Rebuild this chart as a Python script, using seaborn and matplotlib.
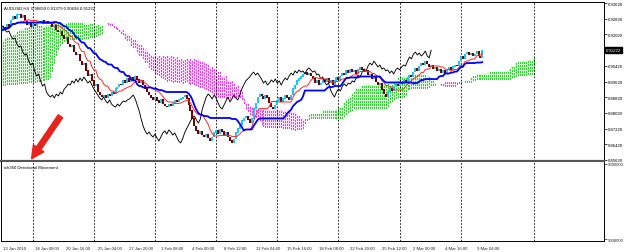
import numpy as np
import pandas as pd
import seaborn as sns
import matplotlib.pyplot as plt
from matplotlib.patches import FancyArrowPatch
from matplotlib.transforms import ScaledTranslation, blended_transform_factory


#%% Data  (AUDUSD H4 closes)

Close = [
0.9219, 0.9235, 0.9224, 0.9250, 0.9240, 0.9275, 0.9291, 0.9280, 0.9301, 0.9306,   # 13 Jan
0.9286, 0.9296, 0.9270, 0.9250, 0.9260, 0.9240, 0.9255, 0.9245, 0.9260, 0.9270,
0.9260, 0.9275, 0.9265, 0.9270, 0.9255, 0.9260, 0.9240, 0.9245, 0.9224, 0.9214,
0.9219, 0.9194, 0.9179, 0.9184, 0.9153, 0.9138, 0.9143, 0.9112, 0.9097, 0.9102,
0.9066, 0.9046, 0.9056, 0.9016, 0.8990, 0.9000, 0.8965, 0.8939, 0.8949, 0.8908,
0.8893, 0.8883, 0.8893, 0.8878, 0.8898, 0.8888, 0.8908, 0.8898, 0.8924, 0.8934,
0.8949, 0.8944, 0.8965, 0.8954, 0.8975, 0.8959, 0.8980, 0.8965, 0.8985, 0.8970,
0.8954, 0.8965, 0.8944, 0.8924, 0.8908, 0.8893, 0.8878, 0.8868, 0.8883, 0.8863,
0.8852, 0.8868, 0.8847, 0.8837, 0.8832, 0.8847, 0.8837, 0.8852, 0.8863, 0.8858,
0.8868, 0.8873, 0.8883, 0.8893, 0.8873, 0.8842, 0.8812, 0.8771, 0.8735, 0.8710,
0.8694, 0.8705, 0.8689, 0.8679, 0.8694, 0.8674, 0.8659, 0.8679, 0.8700, 0.8710,   # 4 Feb
0.8694, 0.8715, 0.8705, 0.8689, 0.8700, 0.8679, 0.8659, 0.8649, 0.8669, 0.8700,
0.8720, 0.8740, 0.8761, 0.8776, 0.8786, 0.8766, 0.8750, 0.8771, 0.8822, 0.8852,
0.8883, 0.8898, 0.8888, 0.8873, 0.8893, 0.8878, 0.8852, 0.8832, 0.8822, 0.8842,
0.8863, 0.8883, 0.8858, 0.8873, 0.8893, 0.8878, 0.8868, 0.8893, 0.8924, 0.8944,
0.8965, 0.8975, 0.8985, 0.9000, 0.9010, 0.8995, 0.9005, 0.8990, 0.8975, 0.8954,
0.8965, 0.8944, 0.8954, 0.8970, 0.8959, 0.8975, 0.8954, 0.8965, 0.8944, 0.8965,
0.8980, 0.8970, 0.8990, 0.9005, 0.8995, 0.9016, 0.9005, 0.9021, 0.9010, 0.9016,
0.9000, 0.9021, 0.9031, 0.9021, 0.9010, 0.9016, 0.8995, 0.9000, 0.8975, 0.8985,
0.8959, 0.8944, 0.8954, 0.8919, 0.8898, 0.8883, 0.8908, 0.8924, 0.8914, 0.8939,
0.8949, 0.8939, 0.8954, 0.8949, 0.8965, 0.8959, 0.8980, 0.8995, 0.8985, 0.9010,   # 2 Mar
0.9026, 0.9016, 0.9041, 0.9056, 0.9046, 0.9066, 0.9051, 0.9036, 0.9046, 0.9026,
0.9031, 0.9016, 0.9021, 0.9005, 0.9016, 0.9000, 0.9021, 0.9031, 0.9021, 0.9036,
0.9046, 0.9041, 0.9066, 0.9087, 0.9077, 0.9102, 0.9112, 0.9097, 0.9107, 0.9092,
0.9102, 0.9117, 0.9092, 0.9082, 0.91222,
]

# cloud edges on the first 52 positions (their windows reach left of the chart)
SpanA_Lead = [
0.9168, 0.9173, 0.9179, 0.9184, 0.9189, 0.9189, 0.9199, 0.9204, 0.9214, 0.9219,
0.9230, 0.9230, 0.9235, 0.9235, 0.9240, 0.9240, 0.9240, 0.9240, 0.9245, 0.9245,
0.9245, 0.9245, 0.9245, 0.9250, 0.9250, 0.9250, 0.9250, 0.9255, 0.9255, 0.9255,
0.9260, 0.9260, 0.9260, 0.9260, 0.9260, 0.9265, 0.9265, 0.9265, 0.9265, 0.9265,
0.9260, 0.9260, 0.9260, 0.9260, 0.9260, 0.9255, 0.9255, 0.9255, 0.9255, 0.9255,
0.9250, 0.9250,
]
SpanB_Lead = [
0.8944, 0.8944, 0.8944, 0.8949, 0.8949, 0.8949, 0.8949, 0.8949, 0.8949, 0.8954,
0.8954, 0.8954, 0.8954, 0.8954, 0.8959, 0.8959, 0.8959, 0.8959, 0.8965, 0.8965,
0.8965, 0.8970, 0.8970, 0.8975, 0.8975, 0.8985, 0.9016, 0.9056, 0.9097, 0.9128,
0.9148, 0.9158, 0.9168, 0.9173, 0.9179, 0.9179, 0.9179, 0.9179, 0.9179, 0.9179,
0.9179, 0.9179, 0.9184, 0.9184, 0.9184, 0.9189, 0.9189, 0.9194, 0.9194, 0.9199,
0.9204, 0.9209,
]

Time_Labels = ["13 Jan 2010", "18 Jan 00:00", "20 Jan 16:00", "25 Jan 04:00", "27 Jan 20:00",
               "1 Feb 08:00", "4 Feb 00:00", "8 Feb 12:00", "11 Feb 04:00", "15 Feb 16:00",
               "18 Feb 08:00", "22 Feb 20:00", "25 Feb 12:00", "2 Mar 00:00", "4 Mar 16:00",
               "9 Mar 04:00"]
Label_Every = 16                      # bars between time labels
Week_Bars = [16, 47, 78, 109, 140, 171, 202, 233, 270]

Price_Ticks = [0.93620, 0.92820, 0.92020, 0.90420, 0.89620, 0.88820, 0.88020, 0.87220, 0.86420, 0.85620]
Osc_Ticks = [9000000, -9000000]
Osc_Labels = ["9000000", "9000000"]

Header = "AUDUSD,H4  0.90659 0.91379 0.90694 0.91222"
Sub_Title = "ich360 Directional Movement"

Tenkan_N, Kijun_N, SenkouB_N = 9, 26, 52


#%% Ichimoku

c = pd.Series(Close)
o = c.shift(1).fillna(c.iloc[0])
hi = np.maximum(o, c)
lo = np.minimum(o, c)

tenkan = (hi.rolling(Tenkan_N, min_periods=1).max() + lo.rolling(Tenkan_N, min_periods=1).min()) / 2
kijun = (hi.rolling(Kijun_N, min_periods=1).max() + lo.rolling(Kijun_N, min_periods=1).min()) / 2
span_a_calc = ((tenkan + kijun) / 2).tolist()
span_b_calc = ((hi.rolling(SenkouB_N, min_periods=1).max() +
                lo.rolling(SenkouB_N, min_periods=1).min()) / 2).tolist()

# value of bar j is drawn 26 bars ahead; lead lists cover the first positions
skip = len(SpanA_Lead) - Kijun_N
span_a = list(SpanA_Lead) + span_a_calc[skip:]
span_b = list(SpanB_Lead) + span_b_calc[skip:]

n = len(Close)
bars = np.arange(n)
df = pd.DataFrame({"bar": bars, "close": Close, "tenkan": tenkan, "kijun": kijun,
                   "chikou_bar": bars - Kijun_N})
cloud = pd.DataFrame({"bar": np.arange(len(span_a)), "a": span_a, "b": span_b})


#%% Style

sns.set_style("white")
plt.rcParams["font.family"] = ["Liberation Sans", "DejaVu Sans"]

FontSize = 3.1
Bull_Color = "#22c4f2"
Bear_Color = "#7a0000"
Up_Cloud = "#2fd22f"
Dn_Cloud = "#f03cf0"
Up_Fill = "#dcf6dc"
Dn_Fill = "#fbdcfb"

W, H = 625, 253
Fig = plt.figure(figsize=[W / 100, H / 100], dpi=100)

ax = Fig.add_axes([0.5 / W, (H - 161.5) / H, 603.5 / W, 159 / H])
ax2 = Fig.add_axes([0.5 / W, (H - 242) / H, 603.5 / W, 79 / H])

XLim = [-0.3, 305.6]
YLim = [0.85594, 0.93697]


#%% Main pane

up = (cloud["a"] >= cloud["b"]).to_numpy()
cb = cloud["bar"].to_numpy()
ca = cloud["a"].to_numpy()
cbb = cloud["b"].to_numpy()

# pale tint under the dotted kumo
ax.bar(cb[up], (ca - cbb)[up], bottom=cbb[up], width=1.0, color=Up_Fill, linewidth=0, zorder=0.5)
ax.bar(cb[~up], (cbb - ca)[~up], bottom=ca[~up], width=1.0, color=Dn_Fill, linewidth=0, zorder=0.5)

Dots = [(0, (1.4, 1.4))]
ax.vlines(cb[up], cbb[up], ca[up], colors=Up_Cloud, linestyles=Dots,
          linewidth=0.72, antialiased=False, zorder=0.8)
ax.vlines(cb[~up], ca[~up], cbb[~up], colors=Dn_Cloud, linestyles=Dots,
          linewidth=0.72, antialiased=False, zorder=0.8)

for g in Week_Bars:
    for a_ in (ax, ax2):
        a_.axvline(g, color="k", linewidth=0.6, linestyle=(0, (2, 2)), zorder=1)

bull = (c >= o).to_numpy()
body_lo = np.minimum(o, c).to_numpy()
body_hi = np.maximum(o, c).to_numpy() + 0.00025
ax.vlines(bars[bull], body_lo[bull], body_hi[bull], colors=Bull_Color, linewidth=1.1,
          antialiased=False, zorder=3)
ax.vlines(bars[~bull], body_lo[~bull], body_hi[~bull], colors=Bear_Color, linewidth=1.1,
          antialiased=False, zorder=3)

sns.lineplot(data=df, x="chikou_bar", y="close", color="k", linewidth=0.65,
             estimator=None, sort=False, ax=ax, zorder=4)
sns.lineplot(data=df, x="bar", y="tenkan", color="#ff2a2a", linewidth=0.7,
             estimator=None, sort=False, ax=ax, zorder=5)
sns.lineplot(data=df, x="bar", y="kijun", color="#0000ff", linewidth=1.3,
             estimator=None, sort=False, ax=ax, zorder=6)

ax.set_xlim(XLim)
ax.set_ylim(YLim)
ax.set_xlabel("")
ax.set_ylabel("")
ax.set_xticks([])
ax.yaxis.tick_right()
ax.set_yticks(Price_Ticks)
ax.set_yticklabels(["%.5f" % p for p in Price_Ticks], fontsize=FontSize)
ax.tick_params(axis="y", length=2, width=0.5, pad=0.6, colors="k")

trans = blended_transform_factory(ax.transAxes, ax.transData)
ax.text(1.0035, Close[-1], "%.5f" % Close[-1], transform=trans, fontsize=FontSize,
        color="white", ha="left", va="center",
        bbox=dict(facecolor="k", edgecolor="k", pad=0.5))

ax.text(0.006, 0.975, Header, transform=ax.transAxes, fontsize=FontSize,
        ha="left", va="top", color="k")

for s in ax.spines.values():
    s.set_color("k")
    s.set_linewidth(0.7)
ax.spines["bottom"].set_color("#555555")
ax.spines["bottom"].set_linewidth(1.6)


#%% Lower pane

ax2.set_xlim(XLim)
ax2.set_ylim(-9400000, 9400000)
ax2.yaxis.tick_right()
ax2.set_yticks(Osc_Ticks)
ax2.set_yticklabels(Osc_Labels, fontsize=FontSize)
ax2.tick_params(axis="y", length=2, width=0.5, pad=0.6)

label_bars = [k * Label_Every for k in range(len(Time_Labels))]
ax2.set_xticks(label_bars)
ax2.set_xticklabels(Time_Labels, fontsize=FontSize, ha="left")
ax2.tick_params(axis="x", length=2, width=0.5, pad=1.5)
for lab in ax2.get_xticklabels():
    lab.set_transform(lab.get_transform() + ScaledTranslation(2 / 100, 0, Fig.dpi_scale_trans))

ax2.text(0.006, 0.96, Sub_Title, transform=ax2.transAxes, fontsize=FontSize,
         ha="left", va="top", color="k")

for s in ax2.spines.values():
    s.set_color("k")
    s.set_linewidth(0.7)
ax2.spines["top"].set_visible(False)


#%% Red arrow (annotation in screenshot)

arrow = FancyArrowPatch(posA=(62 / W, 1 - 115 / H), posB=(30 / W, 1 - 162 / H),
                        transform=Fig.transFigure, color="#e8231c",
                        arrowstyle="simple,head_length=0.9,head_width=0.9,tail_width=0.38",
                        mutation_scale=10, zorder=10)
Fig.add_artist(arrow)

plt.savefig("out.png", dpi=100)
